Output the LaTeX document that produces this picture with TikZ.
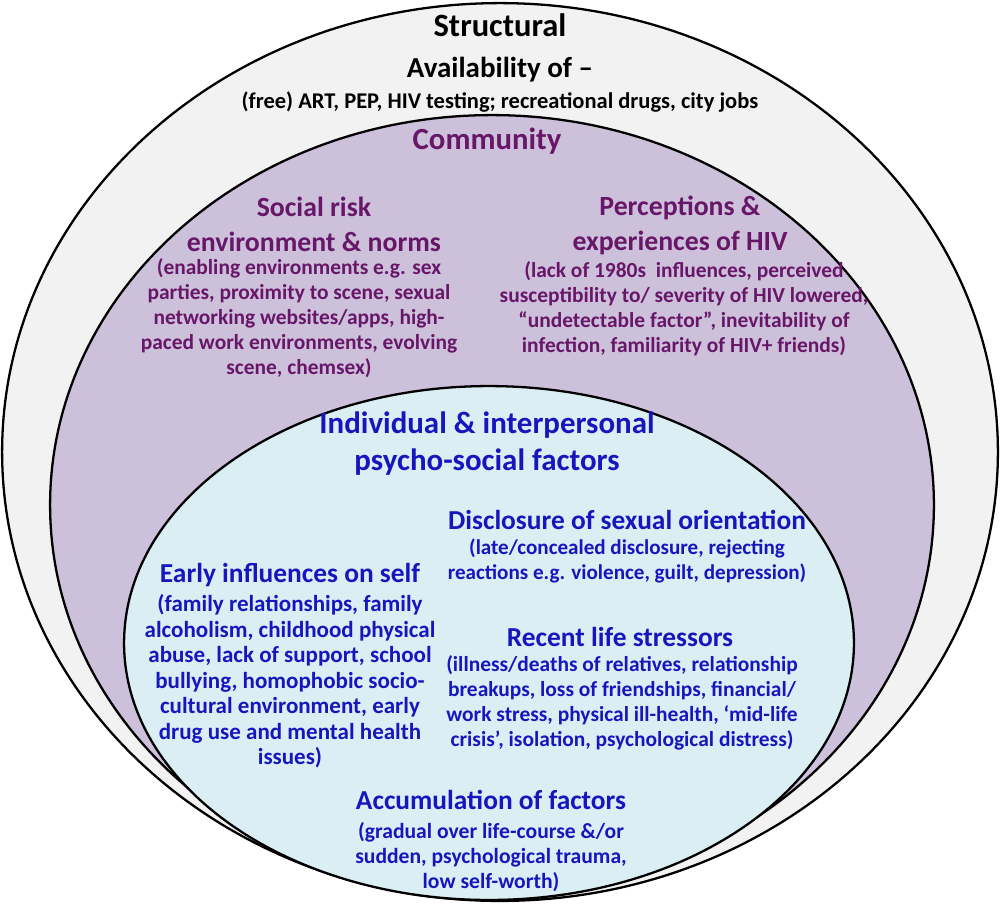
\documentclass[tikz,border=0pt]{standalone}
\usepackage{fontspec}
\setmainfont{Carlito}
\usepackage{tikz}
\usetikzlibrary{positioning}

\definecolor{structfill}{RGB}{242,242,242}
\definecolor{commfill}{RGB}{204,192,218}
\definecolor{indfill}{RGB}{218,238,243}
\definecolor{commtext}{RGB}{104,22,104}
\definecolor{indtext}{RGB}{22,22,190}

\begin{document}
\begin{tikzpicture}[x=0.02cm, y=-0.02cm,
  ring/.style={draw=black, line width=1.3pt},
  txt/.style={font=\bfseries, align=center, inner sep=0pt},
  bighead/.style={txt, font=\bfseries\fontsize{17.5}{21}\selectfont},
  subhead/.style={txt, font=\bfseries\fontsize{15.8}{19.8}\selectfont},
  bluehead/.style={txt, font=\bfseries\fontsize{15.6}{18}\selectfont},
  body/.style={txt, font=\bfseries\fontsize{12.2}{14.2}\selectfont}]
  \useasboundingbox (0,0) rectangle (1000,904);

  % structural ring
  \draw[ring, fill=structfill] (500,452) ellipse [x radius=9.96cm, y radius=8.98cm];
  % community ring
  \draw[ring, fill=commfill] (492,505) ellipse [x radius=8.84cm, y radius=7.8cm];
  % individual ring
  \draw[ring, fill=indfill] (489,643) ellipse [x radius=7.3cm, y radius=5.14cm];

  % structural level
  \node[txt, font=\bfseries\fontsize{18.5}{22}\selectfont] (structural) at (500,25) {Structural};
  \node[txt, font=\bfseries\fontsize{16.5}{20}\selectfont] (avail) at (500,70) {Availability of –};
  \node[body, font=\bfseries\fontsize{12.8}{15}\selectfont] (availtext) at (500,102) {(free) ART, PEP, HIV testing; recreational drugs, city jobs};

  % community level
  \node[bighead, text=commtext] (community) at (487,141) {Community};
  \node[subhead, text=commtext] (social) at (314,224.5) {Social risk\\environment \& norms};
  \node[body, text=commtext] (socialtext) at (299,318)
    {(enabling environments e.g. sex\\parties, proximity to scene, sexual\\networking websites/apps, high-\\paced work environments, evolving\\scene, chemsex)};
  \node[subhead, text=commtext] (percep) at (680,225.5) {Perceptions \&\\experiences of HIV};
  \node[body, text=commtext] (perceptext) at (684,308.5)
    {(lack of 1980s\ \ influences, perceived\\susceptibility to/ severity of HIV lowered,\\“undetectable factor”, inevitability of\\infection, familiarity of HIV+ friends)};

  % individual level
  \node[bighead, font=\bfseries\fontsize{17.6}{21}\selectfont, text=indtext] (individual) at (487,443.5) {Individual \& interpersonal\\psycho-social factors};
  \node[bluehead, text=indtext] (disclosure) at (627,520) {Disclosure of sexual orientation};
  \node[body, font=\bfseries\fontsize{12}{14.2}\selectfont, text=indtext] (disclosuretext) at (627,560.5)
    {(late/concealed disclosure, rejecting\\reactions e.g. violence, guilt, depression)};
  \node[bluehead, text=indtext] (early) at (290,575) {Early influences on self};
  \node[body, font=\bfseries\fontsize{13.1}{14.5}\selectfont, text=indtext] (earlytext) at (290,681.5)
    {(family relationships, family\\alcoholism, childhood physical\\abuse, lack of support, school\\bullying, homophobic socio-\\cultural environment, early\\drug use and mental health\\issues)};
  \node[bluehead, text=indtext] (recent) at (620,637) {Recent life stressors};
  \node[body, text=indtext] (recenttext) at (622,702.5)
    {(illness/deaths of relatives, relationship\\breakups, loss of friendships, financial/\\work stress, physical ill-health, ‘mid-life\\crisis’, isolation, psychological distress)};
  \node[bluehead, text=indtext] (accum) at (491,800) {Accumulation of factors};
  \node[body, font=\bfseries\fontsize{12.3}{14.2}\selectfont, text=indtext] (accumtext) at (491,857)
    {(gradual over life-course \&/or\\sudden, psychological trauma,\\low self-worth)};
\end{tikzpicture}
\end{document}
